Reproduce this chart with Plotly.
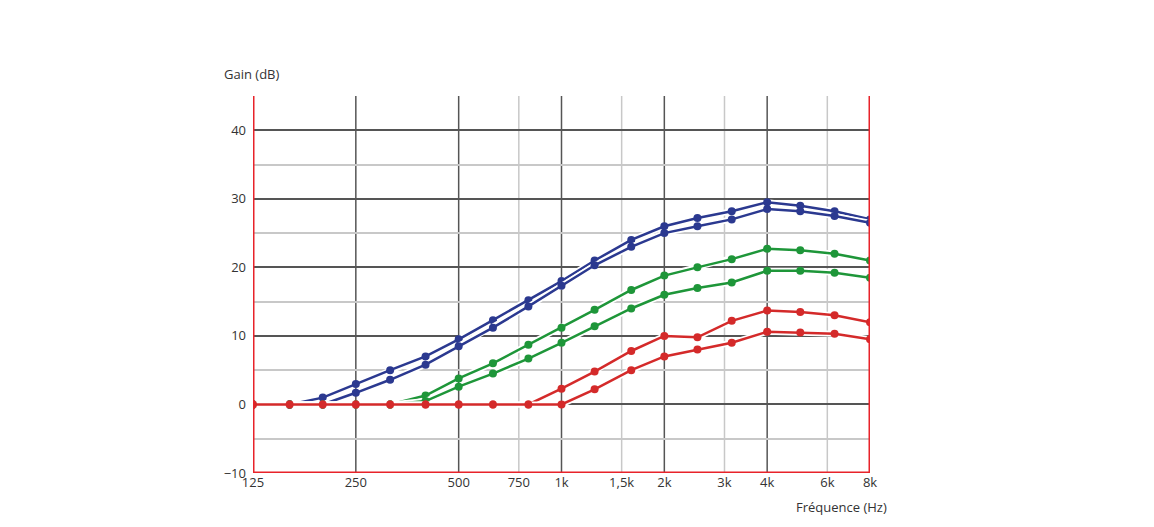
import plotly.graph_objects as go
import math

freqs = [125,160,200,250,315,400,500,630,800,1000,1250,1600,2000,2500,3150,4000,5000,6300,8000]
blue_upper = [0,0,1,3,5,7,9.5,12.3,15.2,18,21,24,26,27.2,28.2,29.5,29,28.2,27]
blue_lower = [0,0,0,1.7,3.6,5.8,8.5,11.2,14.3,17.3,20.3,23,25,26,27,28.5,28.2,27.5,26.5]
green_upper = [0,0,0,0,0,1.3,3.8,6,8.7,11.2,13.8,16.7,18.8,20,21.2,22.7,22.5,22,21]
green_lower = [0,0,0,0,0,0.5,2.6,4.5,6.7,9,11.4,14,16,17,17.8,19.5,19.5,19.2,18.5]
red_upper = [0,0,0,0,0,0,0,0,0,2.3,4.8,7.8,10,9.8,12.2,13.7,13.5,13,12]
red_lower = [0,0,0,0,0,0,0,0,0,0,2.2,5,7,8,9,10.6,10.5,10.3,9.5]

tick_vals = [125,250,500,750,1000,1500,2000,3000,4000,6000,8000]
tick_text = ["125","250","500","750","1k","1,5k","2k","3k","4k","6k","8k"]
major_x = [250,500,1000,2000,4000]
minor_x = [750,1500,3000,6000]

fig = go.Figure()
series = [(blue_upper,"#2b3990"),(blue_lower,"#2b3990"),(green_upper,"#1e9639"),
          (green_lower,"#1e9639"),(red_upper,"#d42a2a"),(red_lower,"#d42a2a")]
for ys, c in series:
    fig.add_trace(go.Scatter(x=freqs, y=ys, mode="lines", line=dict(color="white", width=6),
                             hoverinfo="skip", showlegend=False))
    fig.add_trace(go.Scatter(x=freqs, y=ys, mode="lines+markers", line=dict(color=c, width=2.5),
                             marker=dict(color=c, size=8), showlegend=False))

shapes = []
for f in minor_x:
    shapes.append(dict(type="line", xref="x", yref="paper", x0=f, x1=f,
                       y0=0, y1=1, line=dict(color="#c8c8c8", width=1.5), layer="below"))
for f in major_x:
    shapes.append(dict(type="line", xref="x", yref="paper", x0=f, x1=f,
                       y0=0, y1=1, line=dict(color="#555555", width=1.5), layer="below"))
for f in [125, 8000]:
    shapes.append(dict(type="line", xref="x", yref="paper", x0=f, x1=f,
                       y0=0, y1=1, line=dict(color="#e8232a", width=3)))
shapes.append(dict(type="line", xref="paper", yref="y", x0=0, x1=1, y0=-10, y1=-10,
                   line=dict(color="#e8232a", width=3)))
fig.update_layout(shapes=shapes)

fig.update_layout(
    width=1154, height=527, paper_bgcolor="white", plot_bgcolor="white",
    margin=dict(l=245, r=292, t=88, b=62, autoexpand=False),
    font=dict(family="Open Sans, DejaVu Sans", size=13, color="#333"),
    xaxis=dict(type="log", range=[math.log10(125), math.log10(8000)], tickvals=tick_vals,
               ticktext=tick_text, showgrid=False, zeroline=False, ticks="", showline=False),
    yaxis=dict(range=[-10, 45], tickvals=[-10,0,10,20,30,40], showgrid=True, gridcolor="#555555",
               gridwidth=1.5, zeroline=False, ticks="", ticklabelstandoff=6,
               minor=dict(tickvals=[-5,5,15,25,35,45], showgrid=True, gridcolor="#c8c8c8", gridwidth=1.5)),
    annotations=[
        dict(text="Gain (dB)", xref="paper", yref="paper", x=-0.05, y=1.03, xanchor="left",
             yanchor="bottom", showarrow=False, font=dict(size=13, color="#333")),
        dict(text="Fréquence (Hz)", xref="paper", yref="paper", x=1.03, y=-0.06, xanchor="right",
             yanchor="top", showarrow=False, font=dict(size=13, color="#333")),
    ],
)
fig.write_html("out.html")
